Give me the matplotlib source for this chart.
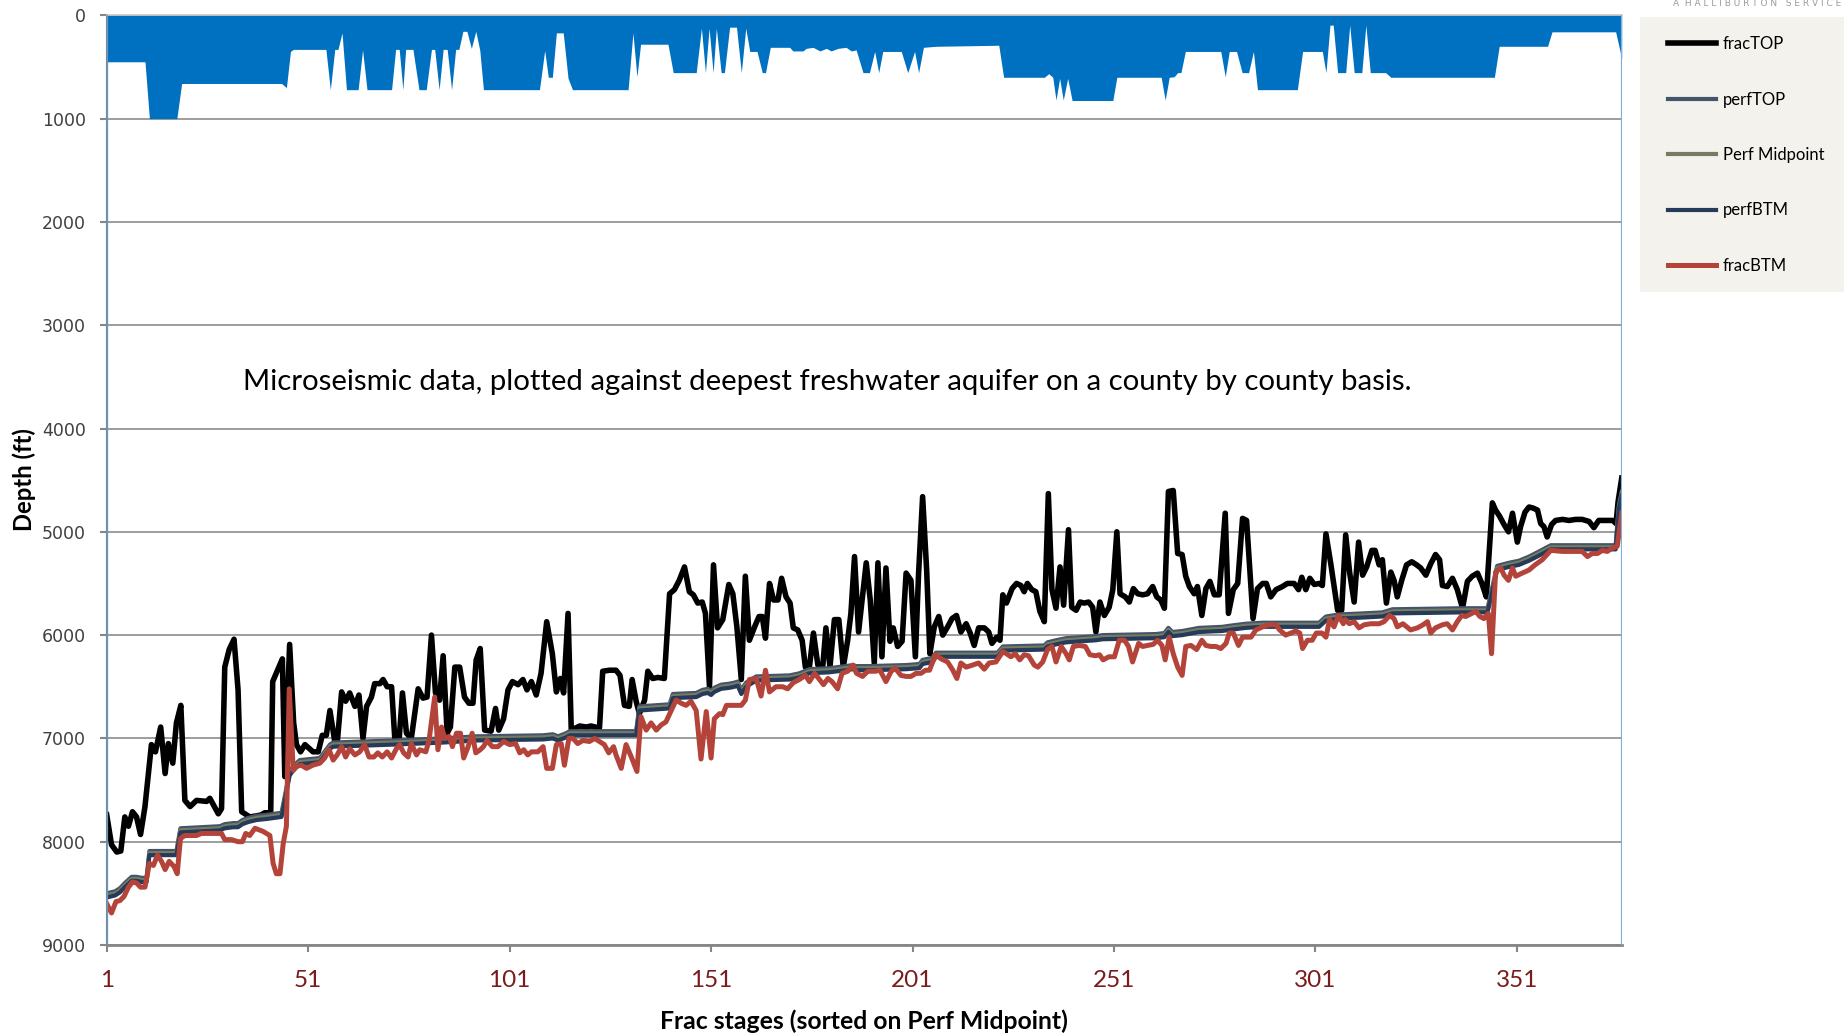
import numpy as np
import matplotlib.pyplot as plt
from matplotlib.patches import Rectangle

# ---- data: (frac stage, depth ft) ----
stage_ticks = [1, 51, 101, 151, 201, 251, 301, 351]
depth_ticks = [0, 1000, 2000, 3000, 4000, 5000, 6000, 7000, 8000, 9000]

# deepest freshwater aquifer (blue area from surface down to this depth)
aquifer = [(1, 450), (10.5, 450), (11.6, 1000), (18.4, 1000), (19.6, 660), (44.4, 660), (45.6, 700),
           (46.6, 350), (47.3, 330), (55.4, 330), (56.5, 720), (57.6, 330), (58.4, 330), (59.4, 170),
           (60.5, 720), (63.4, 720), (64.5, 335), (65.6, 720), (71.7, 720), (72.7, 330), (73.6, 330),
           (74.5, 720), (75.2, 330), (77.0, 330), (78.5, 720), (80.3, 720), (81.6, 330), (82.4, 330),
           (83.5, 720), (84.5, 330), (85.5, 330), (86.6, 720), (87.6, 330), (88.4, 330), (89.4, 155),
           (90.4, 155), (91.5, 320), (92.6, 155), (93.6, 340), (94.5, 720), (108.4, 720), (109.7, 340),
           (110.6, 600), (111.6, 600), (112.6, 170), (114.3, 170), (115.5, 610), (116.6, 720),
           (130.4, 720), (131.6, 170), (132.6, 595), (133.5, 280), (140.3, 280), (141.6, 555),
           (147.3, 555), (148.6, 125), (149.6, 555), (150.5, 125), (151.5, 555), (152.3, 125),
           (153.5, 555), (154.3, 555), (155.6, 115), (157.3, 115), (158.5, 555), (159.6, 125),
           (160.6, 350), (162.4, 350), (163.7, 555), (164.5, 555), (165.7, 310), (170.5, 310),
           (171.3, 345), (173.8, 345), (174.6, 320), (176.3, 310), (178.0, 345), (179.6, 320),
           (180.8, 345), (182.5, 320), (184.5, 310), (185.8, 345), (187.0, 335), (188.7, 555),
           (190.3, 555), (191.6, 350), (192.6, 555), (193.6, 350), (198.2, 350), (199.8, 555),
           (201.5, 350), (202.5, 555), (203.7, 310), (206.8, 300), (222.4, 290), (223.6, 600),
           (233.7, 600), (234.8, 565), (235.8, 600), (236.6, 820), (237.5, 610), (238.4, 820),
           (239.5, 610), (240.6, 825), (250.7, 825), (251.7, 600), (262.7, 600), (263.7, 820),
           (264.7, 600), (265.9, 595), (266.8, 555), (267.6, 555), (268.7, 350), (277.5, 350),
           (278.6, 595), (279.6, 350), (281.4, 350), (282.8, 555), (284.4, 555), (285.6, 350),
           (286.6, 720), (296.5, 720), (297.8, 350), (302.7, 350), (303.6, 555), (304.6, 95),
           (305.4, 95), (306.5, 555), (308.5, 555), (309.5, 95), (310.6, 555), (312.5, 555),
           (313.5, 95), (314.6, 555), (318.4, 555), (319.7, 600), (345.4, 600), (346.6, 300),
           (358.6, 300), (359.7, 160), (375.5, 160), (377, 420)]

frac_top = [(1, 7740), (2.2, 8030), (3.5, 8100), (4.5, 8090), (5.5, 7760), (6.4, 7850), (7.4, 7710),
            (8.4, 7760), (9.4, 7930), (10.5, 7660), (12.1, 7060), (13.1, 7130), (14.4, 6890),
            (15.5, 7340), (16.3, 7050), (17.4, 7240), (18.3, 6850), (19.4, 6680), (20.4, 7600),
            (21.7, 7660), (23.3, 7600), (25.8, 7610), (26.6, 7580), (28.7, 7730), (29.5, 7680),
            (30.3, 6310), (31.4, 6140), (32.6, 6040), (33.6, 6530), (34.5, 7710), (35.7, 7740),
            (36.5, 7760), (38.2, 7750), (39.4, 7740), (40.2, 7720), (41.7, 7720), (42.2, 6450),
            (44.6, 6230), (45.2, 7370), (46.4, 6090), (47.4, 6850), (48.1, 7060), (49.1, 7130),
            (50.2, 7060), (52.2, 7130), (53.5, 7130), (54.5, 6970), (55.5, 6970), (56.4, 6730),
            (57.6, 7030), (58.2, 7050), (59.3, 6550), (60.3, 6640), (61.3, 6560), (62.6, 6690),
            (63.6, 6580), (64.6, 7000), (65.5, 6690), (66.7, 6600), (67.5, 6470), (68.8, 6470),
            (69.6, 6430), (70.6, 6500), (71.7, 6500), (72.5, 7000), (73.6, 7000), (74.4, 6560),
            (75.4, 6950), (76.6, 7000), (78.3, 6520), (79.5, 6610), (80.5, 6600), (81.6, 6000),
            (82.6, 6560), (83.6, 6630), (84.5, 6200), (85.5, 6950), (86.3, 6890), (87.4, 6310),
            (88.6, 6310), (89.8, 6600), (90.9, 6660), (91.9, 6660), (92.7, 6240), (93.7, 6130),
            (94.8, 6920), (96.4, 6930), (97.5, 6710), (98.3, 6920), (99.5, 6810), (100.6, 6530),
            (101.7, 6450), (103.1, 6480), (104.3, 6430), (105.3, 6530), (106.4, 6450), (107.6, 6580),
            (108.8, 6370), (110.2, 5870), (111.6, 6180), (112.6, 6550), (113.6, 6420), (114.4, 6560),
            (115.5, 5790), (116.3, 6920), (118.4, 6880), (120.0, 6890), (121.2, 6880), (123.3, 6900),
            (124.1, 6350), (125.8, 6340), (127.4, 6340), (128.4, 6390), (129.5, 6680), (130.7, 6690),
            (131.4, 6430), (132.4, 6640), (133.2, 6760), (134.5, 6630), (135.3, 6350), (136.5, 6420),
            (137.8, 6410), (139.4, 6420), (140.7, 5600), (141.9, 5560), (143.1, 5470), (144.4, 5340),
            (145.6, 5580), (146.6, 5610), (147.7, 5690), (148.8, 5680), (149.6, 5790), (150.6, 6500),
            (151.6, 5320), (152.6, 5930), (153.9, 5850), (155.4, 5510), (156.4, 5600), (157.4, 5920),
            (158.5, 6430), (159.5, 5430), (160.5, 6050), (161.8, 5920), (162.9, 5820), (163.7, 5820),
            (164.5, 6030), (165.5, 5500), (166.5, 5660), (167.6, 5660), (168.5, 5450), (169.6, 5630),
            (170.6, 5690), (171.4, 5930), (172.5, 5950), (173.6, 6050), (174.4, 6310), (175.4, 6310),
            (176.4, 5980), (177.5, 6290), (178.7, 6310), (179.5, 5930), (180.5, 6310), (181.6, 5850),
            (182.7, 5850), (183.8, 6310), (184.9, 6050), (185.7, 5790), (186.6, 5240), (187.6, 5970),
            (189.5, 5300), (190.5, 5660), (191.5, 6270), (192.4, 5300), (193.4, 6210), (194.4, 5350),
            (195.4, 6060), (196.2, 5930), (197.3, 6110), (198.4, 6060), (199.4, 5400), (200.6, 5470),
            (201.7, 6210), (202.5, 5400), (203.5, 4660), (204.5, 5370), (205.3, 6180), (206.4, 5920),
            (207.5, 5820), (208.5, 6000), (209.7, 5920), (210.8, 5840), (211.9, 5810), (213.0, 5970),
            (214.3, 5890), (215.3, 5980), (216.3, 6100), (217.4, 5930), (218.8, 5930), (219.9, 5970),
            (220.7, 6080), (221.9, 6020), (222.7, 6050), (223.4, 5610), (224.3, 5690), (225.7, 5550),
            (226.8, 5500), (227.9, 5520), (228.7, 5580), (229.5, 5500), (230.6, 5560), (231.6, 5580),
            (232.6, 5770), (233.7, 5870), (234.7, 4630), (235.6, 5560), (236.6, 5740), (237.6, 5340),
            (238.5, 5710), (239.7, 4980), (240.5, 5730), (241.6, 5760), (242.6, 5680), (243.6, 5690),
            (244.7, 5680), (245.7, 5730), (246.5, 5970), (247.5, 5680), (248.6, 5810), (249.8, 5730),
            (250.7, 5560), (251.7, 5000), (252.5, 5600), (253.8, 5630), (254.8, 5680), (255.8, 5550),
            (256.9, 5600), (258.1, 5610), (259.3, 5600), (260.6, 5530), (261.6, 5630), (262.6, 5660),
            (263.5, 5740), (264.5, 4610), (265.7, 4600), (266.8, 5210), (267.9, 5220), (268.8, 5430),
            (269.7, 5530), (270.9, 5600), (271.7, 5530), (272.8, 5810), (273.8, 5550), (274.8, 5480),
            (275.9, 5610), (277.1, 5610), (278.6, 4820), (279.4, 5790), (280.6, 5560), (281.7, 5500),
            (282.9, 4870), (283.9, 4890), (285.5, 5840), (286.6, 5550), (287.9, 5500), (288.8, 5500),
            (289.9, 5630), (291.2, 5560), (292.8, 5530), (294.0, 5500), (295.7, 5500), (296.8, 5560),
            (297.6, 5440), (298.6, 5560), (299.6, 5450), (300.7, 5510), (301.9, 5500), (302.7, 5520),
            (303.6, 5020), (304.8, 5310), (306.5, 5760), (307.5, 5760), (308.5, 5030), (309.5, 5400),
            (310.6, 5680), (311.7, 5100), (312.7, 5420), (313.7, 5340), (315.0, 5180), (315.8, 5180),
            (316.8, 5320), (317.6, 5270), (318.6, 5690), (319.7, 5390), (320.5, 5470), (321.3, 5630),
            (322.4, 5470), (323.6, 5320), (324.9, 5290), (326.1, 5320), (327.1, 5350), (328.4, 5420),
            (329.6, 5310), (330.8, 5220), (331.8, 5270), (332.5, 5520), (333.7, 5530), (335.0, 5450),
            (336.2, 5560), (337.5, 5740), (338.7, 5480), (339.9, 5430), (341.2, 5400), (342.3, 5500),
            (343.4, 5630), (344.9, 4720), (345.7, 4790), (346.7, 4850), (347.8, 4930), (348.9, 5000),
            (349.9, 4820), (351.1, 5100), (351.9, 4950), (353.0, 4810), (354.0, 4760), (355.0, 4770),
            (356.1, 4790), (356.9, 4920), (357.7, 4950), (358.5, 5050), (359.6, 4930), (360.6, 4890),
            (362.3, 4880), (363.9, 4890), (365.6, 4880), (367.2, 4880), (368.9, 4900), (370.1, 4960),
            (371.3, 4890), (373.0, 4890), (374.8, 4890), (375.6, 4920), (376.1, 4710), (377, 4480)]

frac_btm = [(1, 8600), (2.2, 8690), (3.3, 8580), (4.3, 8570), (5.3, 8530), (6.4, 8440), (7.4, 8390),
            (8.4, 8400), (9.4, 8440), (10.5, 8440), (11.6, 8210), (12.6, 8230), (13.6, 8130),
            (14.6, 8190), (15.5, 8270), (16.5, 8190), (17.7, 8240), (18.5, 8310), (19.3, 7970),
            (20.4, 7940), (23.3, 7940), (24.5, 7920), (29.5, 7920), (30.3, 7980), (32.0, 7980),
            (33.6, 8000), (34.7, 8000), (35.5, 7920), (36.5, 7940), (37.8, 7870), (39.8, 7900),
            (41.5, 7940), (42.3, 8210), (43.1, 8310), (44.0, 8310), (44.8, 8020), (45.6, 7850),
            (46.3, 6520), (47.3, 7310), (48.1, 7270), (49.3, 7260), (50.6, 7290), (52.1, 7260),
            (53.9, 7240), (55.1, 7190), (56.2, 7110), (57.2, 7210), (58.2, 7160), (59.3, 7080),
            (60.3, 7180), (61.3, 7100), (62.6, 7160), (63.8, 7130), (65.0, 7060), (66.1, 7180),
            (67.3, 7180), (68.3, 7140), (69.4, 7180), (70.6, 7130), (71.7, 7190), (72.9, 7100),
            (73.7, 7060), (74.7, 7140), (75.8, 7180), (76.6, 7050), (77.9, 7160), (78.7, 7110),
            (80.2, 7130), (81.0, 7020), (82.4, 6600), (83.2, 7110), (84.1, 6890), (84.9, 7000),
            (86.0, 6980), (86.8, 7080), (87.8, 6950), (88.8, 6950), (89.6, 7190), (90.7, 7080),
            (91.7, 6950), (92.6, 7140), (93.7, 7110), (94.5, 7080), (95.4, 7020), (96.7, 7080),
            (98.1, 7080), (99.5, 7030), (101.0, 7060), (102.5, 7050), (103.5, 7140), (104.5, 7110),
            (105.5, 7160), (106.4, 7130), (108.0, 7130), (109.3, 7080), (110.2, 7290), (111.6, 7290),
            (112.6, 7060), (113.8, 7050), (114.6, 7260), (115.7, 7000), (116.7, 7000), (117.9, 7050),
            (119.2, 7020), (120.8, 7030), (122.1, 7000), (123.3, 7030), (124.5, 7060), (125.6, 7140),
            (126.8, 7080), (127.4, 7160), (128.7, 7290), (129.9, 7060), (131.2, 7180), (132.6, 7320),
            (133.6, 6790), (134.9, 6920), (136.1, 6850), (137.4, 6920), (138.6, 6870), (139.8, 6840),
            (141.1, 6730), (142.3, 6630), (143.6, 6660), (144.8, 6680), (146.0, 6640), (147.3, 6730),
            (148.5, 7200), (149.8, 6740), (151.0, 7190), (151.8, 6810), (153.1, 6760), (153.9, 6770),
            (154.8, 6680), (158.5, 6680), (159.5, 6630), (160.5, 6430), (162.2, 6420), (163.4, 6590),
            (164.5, 6340), (165.5, 6550), (167.1, 6500), (168.8, 6500), (170.0, 6520), (171.4, 6460),
            (172.9, 6430), (174.4, 6390), (175.4, 6450), (176.7, 6370), (177.9, 6430), (178.9, 6480),
            (180.0, 6420), (181.0, 6450), (182.4, 6520), (183.5, 6370), (184.9, 6350), (186.2, 6290),
            (187.1, 6370), (188.6, 6400), (189.9, 6350), (191.8, 6350), (192.9, 6340), (194.4, 6450),
            (195.7, 6350), (196.7, 6320), (198.1, 6390), (199.4, 6400), (200.6, 6400), (201.9, 6370),
            (203.1, 6370), (204.2, 6340), (205.2, 6340), (206.7, 6190), (208.1, 6230), (209.7, 6260),
            (211.0, 6340), (212.0, 6420), (213.0, 6270), (214.3, 6310), (215.9, 6290), (217.4, 6270),
            (218.8, 6330), (220.0, 6270), (221.7, 6260), (223.4, 6160), (224.3, 6180), (225.4, 6210),
            (226.5, 6180), (227.6, 6240), (228.7, 6190), (229.8, 6200), (231.2, 6290), (232.1, 6310),
            (233.3, 6260), (234.5, 6140), (235.6, 6110), (236.6, 6260), (237.9, 6110), (239.1, 6180),
            (239.9, 6240), (240.9, 6110), (242.4, 6100), (243.9, 6110), (245.0, 6190), (246.4, 6200),
            (247.4, 6190), (248.3, 6240), (249.7, 6210), (251.1, 6210), (252.3, 6050), (253.6, 6050),
            (254.6, 6110), (255.6, 6260), (257.1, 6080), (258.1, 6110), (259.3, 6100), (260.7, 6090),
            (261.8, 6050), (262.9, 6100), (263.7, 6240), (264.7, 6020), (265.7, 6180), (266.8, 6310),
            (267.9, 6390), (268.8, 6110), (270.1, 6100), (271.5, 6140), (272.8, 6050), (273.8, 6100),
            (275.0, 6110), (276.3, 6110), (277.5, 6130), (278.8, 6080), (279.6, 5980), (280.6, 5980),
            (281.9, 6100), (282.9, 6020), (283.9, 6020), (285.0, 6020), (286.2, 5950), (287.9, 5920),
            (289.5, 5900), (291.2, 5900), (292.1, 5950), (293.6, 6000), (294.9, 5980), (296.1, 5960),
            (297.1, 5980), (297.8, 6130), (299.0, 6050), (300.2, 6050), (301.2, 5980), (302.6, 5980),
            (303.6, 6020), (304.5, 5850), (305.6, 5920), (306.7, 5810), (307.9, 5890), (308.4, 5850),
            (309.4, 5890), (310.6, 5870), (311.8, 5930), (313.1, 5900), (314.7, 5890), (316.8, 5890),
            (318.0, 5870), (319.4, 5810), (320.5, 5840), (321.3, 5920), (322.7, 5890), (324.6, 5950),
            (326.3, 5930), (327.7, 5900), (328.8, 5870), (329.6, 5980), (330.8, 5930), (332.5, 5900),
            (333.7, 5890), (335.0, 5950), (336.2, 5870), (337.3, 5810), (338.3, 5820), (339.8, 5790),
            (340.8, 5770), (341.8, 5820), (342.8, 5840), (343.9, 5790), (344.7, 6180), (345.7, 5390),
            (347.0, 5350), (347.8, 5420), (348.9, 5470), (349.9, 5350), (350.7, 5430), (352.3, 5400),
            (354.0, 5370), (355.5, 5320), (357.3, 5270), (359.4, 5180), (362.3, 5190), (364.7, 5190),
            (367.2, 5190), (368.5, 5240), (369.7, 5210), (371.0, 5210), (372.2, 5180), (373.4, 5190),
            (374.6, 5160), (375.9, 5140), (377, 4820)]

perf_stage = [1, 3.1, 4.3, 5.5, 7.2, 8.4, 9.7, 10.9, 11.6, 18.3, 19.3, 29.1, 30.3, 32.4, 33.6, 34.7,
              36.1, 38.2, 40.7, 44.4, 45.6, 46.4, 47.3, 48.9, 53.9, 56.4, 57.2, 64.6, 72.1, 84.5,
              92.7, 109.3, 111.7, 113.0, 115.0, 115.9, 132.4, 133.2, 140.7, 141.5, 147.3, 148.9,
              150.2, 151.0, 151.8, 153.5, 155.6, 156.8, 157.6, 158.5, 159.7, 162.2, 170.5, 172.9,
              175.4, 180.4, 184.5, 186.2, 187.0, 190.3, 199.4, 202.7, 203.5, 206.0, 206.8, 222.1,
              223.4, 233.7, 234.5, 236.6, 239.1, 246.5, 248.2, 261.4, 263.5, 264.5, 265.5, 268.0,
              272.1, 277.9, 279.6, 283.7, 287.9, 301.9, 303.6, 306.9, 312.7, 317.6, 320.1, 337.5,
              343.7, 346.1, 349.0, 351.5, 354.0, 356.5, 359.4, 375.5, 376.3, 377]
perf_top = [8500, 8480, 8450, 8400, 8340, 8340, 8350, 8350, 8090, 8090, 7870, 7850, 7830, 7820, 7820,
            7790, 7770, 7750, 7740, 7720, 7480, 7320, 7270, 7210, 7190, 7060, 7040, 7030, 7020, 7000,
            6980, 6970, 6960, 6980, 6950, 6930, 6930, 6690, 6670, 6570, 6560, 6530, 6520, 6540, 6510,
            6480, 6470, 6460, 6450, 6530, 6460, 6400, 6390, 6370, 6330, 6320, 6300, 6290, 6300, 6300,
            6290, 6280, 6240, 6220, 6170, 6170, 6110, 6100, 6070, 6050, 6030, 6010, 6000, 5990, 5980,
            5930, 5970, 5960, 5930, 5920, 5910, 5890, 5880, 5880, 5820, 5800, 5790, 5780, 5750, 5740,
            5740, 5330, 5300, 5280, 5240, 5190, 5130, 5130, 4740, 4610]
perf_mid = [8520, 8500, 8470, 8420, 8360, 8360, 8370, 8370, 8110, 8110, 7890, 7870, 7850, 7840, 7840,
            7810, 7790, 7770, 7760, 7740, 7500, 7340, 7290, 7230, 7210, 7080, 7060, 7050, 7040, 7020,
            7000, 6990, 6980, 7000, 6970, 6950, 6950, 6710, 6690, 6590, 6580, 6550, 6540, 6560, 6530,
            6500, 6490, 6480, 6470, 6550, 6480, 6420, 6410, 6390, 6350, 6340, 6320, 6310, 6320, 6320,
            6310, 6300, 6260, 6240, 6190, 6190, 6130, 6120, 6090, 6070, 6050, 6030, 6020, 6010, 6000,
            5950, 5990, 5980, 5950, 5940, 5930, 5910, 5900, 5900, 5840, 5820, 5810, 5800, 5770, 5760,
            5760, 5350, 5320, 5300, 5260, 5210, 5150, 5150, 4760, 4630]
perf_btm = [8540, 8520, 8490, 8440, 8380, 8380, 8390, 8390, 8130, 8130, 7910, 7890, 7870, 7860, 7860,
            7830, 7810, 7790, 7780, 7760, 7520, 7360, 7310, 7250, 7230, 7100, 7080, 7070, 7060, 7040,
            7020, 7010, 7000, 7020, 6990, 6970, 6970, 6730, 6710, 6610, 6600, 6570, 6560, 6580, 6550,
            6520, 6510, 6500, 6490, 6570, 6500, 6440, 6430, 6410, 6370, 6360, 6340, 6330, 6340, 6340,
            6330, 6320, 6280, 6260, 6210, 6210, 6150, 6140, 6110, 6090, 6070, 6050, 6040, 6030, 6020,
            5970, 6010, 6000, 5970, 5960, 5950, 5930, 5920, 5920, 5860, 5840, 5830, 5820, 5790, 5780,
            5780, 5370, 5340, 5320, 5280, 5230, 5170, 5170, 4780, 4650]

W, H = 1844, 1034
fig = plt.figure(figsize=(W / 100, H / 100), dpi=100)
ax = fig.add_axes([106.7 / W, 1 - 945 / H, 1515 / W, (945 - 15.3) / H])

# aquifer area
aq_s, aq_d = np.array(aquifer).T
ax.fill_between(aq_s, 0, aq_d, color='#0070C0', lw=0, zorder=2)

# lines, in Excel series order
ft_s, ft_d = np.array(frac_top).T
fb_s, fb_d = np.array(frac_btm).T
ax.plot(ft_s, ft_d, color='black', lw=4.0, label='fracTOP', zorder=3)
ax.plot(perf_stage, perf_top, color='#44546A', lw=3.0, label='perfTOP', zorder=3)
ax.plot(perf_stage, perf_mid, color='#767C62', lw=3.0, label='Perf Midpoint', zorder=3)
ax.plot(perf_stage, perf_btm, color='#263B59', lw=3.0, label='perfBTM', zorder=3)
ax.plot(fb_s, fb_d, color='#B4443A', lw=3.6, label='fracBTM', zorder=3)

ax.set_xlim(1, 377)
ax.set_ylim(9000, 0)
ax.set_xticks(stage_ticks)
ax.set_yticks(depth_ticks)
ax.yaxis.grid(True, color='#8C8C8C', lw=1.2)
ax.set_axisbelow(True)

ax.spines['right'].set_visible(False)
ax.spines['top'].set_color('#C8C8C8')
ax.spines['top'].set_linewidth(1.2)
ax.spines['left'].set_color('#868686')
ax.spines['left'].set_linewidth(1.5)
ax.spines['bottom'].set_color('#868686')
ax.spines['bottom'].set_linewidth(2)
ax.axvline(1, color='#5B9BD5', lw=1.6, zorder=4)
ax.axvline(377, color='#7EB0DE', lw=1.6, zorder=4)

ax.tick_params(axis='both', direction='out', length=5, width=1.5, color='#868686')
ax.tick_params(axis='x', pad=13, labelsize=17.5, labelcolor='#7A1C1C')
ax.tick_params(axis='y', pad=10, labelsize=12.5, labelcolor='#404040')
for t in ax.get_xticklabels():
    t.set_fontfamily('Lato')

fig.text(0.4485, 1 - 382 / H,
         'Microseismic data, plotted against deepest freshwater aquifer on a county by county basis.',
         ha='center', va='center', fontsize=21.2, family='Lato', color='black')
fig.text(864 / W, 1 - 1021 / H, 'Frac stages (sorted on Perf Midpoint)', ha='center', va='center',
         fontsize=17.8, fontweight='bold', family='Lato')
fig.text(24 / W, 1 - 480 / H, 'Depth (ft)', ha='center', va='center', rotation=90,
         fontsize=17.2, fontweight='bold', family='Lato')

# legend panel
fig.patches.append(Rectangle((1640 / W, 1 - 292 / H), 204 / W, 275 / H, transform=fig.transFigure,
                             facecolor='#F3F2EC', edgecolor='none', zorder=0))
fig.legend(loc='upper left', bbox_to_anchor=(1668 / W, 1 - 36 / H), frameon=False,
           prop={'family': 'Lato', 'size': 12}, labelspacing=2.37, handlelength=2.9,
           handletextpad=0.4, borderpad=0, borderaxespad=0)

fig.text(1757 / W, 1 - 4 / H, 'A  H A L L I B U R T O N   S E R V I C E', ha='center', va='center',
         fontsize=6.5, color='#9A9A9A')

fig.savefig('out.png', dpi=100)
